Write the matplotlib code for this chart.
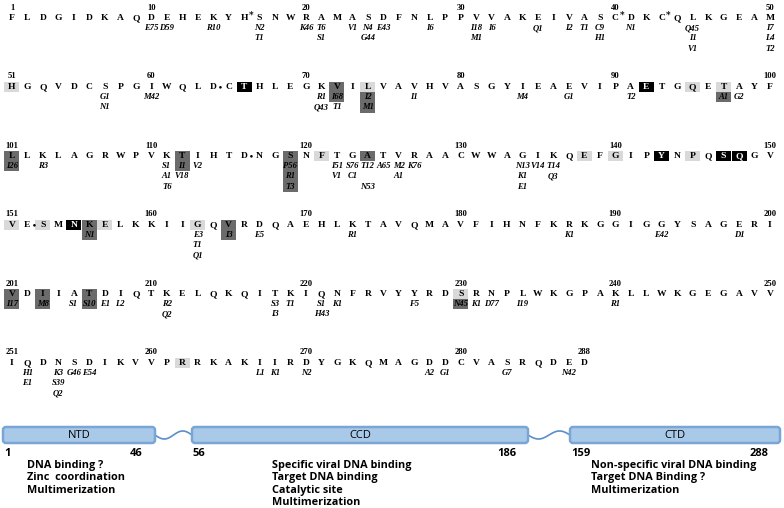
import numpy as np
import matplotlib
matplotlib.use('Agg')
import matplotlib.pyplot as plt
from matplotlib.patches import Rectangle, FancyBboxPatch

# integrase consensus sequence, 50 residues per printed row
sequence = ("FLDGIDKAQDEHEKYHSNWRAMASDFNLPPVVAKEIVASCDKCQLKGEAM"
            "HGQVDCSPGIWQLDCTHLEGKVILVAVHVASGYIEAEVIPAETGQETAYF"
            "LLKLAGRWPVKTIHTDNGSNFTGATVRAACWWAGIKQEFGIPYNPQSQGV"
            "VESMNKELKKIIGQVRDQAEHLKTAVQMAVFIHNFKRKGGIGGYSAGERI"
            "VDIIATDIQTKELQKQITKIQNFRVYYRDSRNPLWKGPAKLLWKGEGAVV"
            "IQDNSDIKVVPRRKAKIIRDYGKQMAGDDCVASRQDED")

# residue marks printed after the letter
markers = {16: '*', 40: '*', 43: '*', 64: '\u2022', 116: '\u2022', 152: '\u2022'}

# substitutions observed at each position ('' = empty line)
substitutions = {
    10: ['E75'], 11: ['D59'], 14: ['R10'], 17: ['N2', 'T1'], 20: ['K46'],
    21: ['T6', 'S1'], 23: ['V1'], 24: ['N4', 'G44'], 25: ['E43'], 28: ['I6'],
    31: ['I18', 'M1'], 32: ['I6'], 35: ['Q1'], 37: ['I2'], 38: ['T1'],
    39: ['C9', 'H1'], 41: ['N1'], 45: ['Q45', 'I1', 'V1'], 50: ['I7', 'L4', 'T2'],
    57: ['G1', 'N1'], 60: ['M42'], 71: ['R1', 'Q43'], 72: ['I68', 'T1'],
    74: ['I2', 'M1'], 77: ['I1'], 84: ['M4'], 87: ['G1'], 91: ['T2'],
    97: ['A1'], 98: ['G2'],
    101: ['I26'], 103: ['R3'], 111: ['S1', 'A1', 'T6'], 112: ['I1', 'V18'],
    113: ['V2'], 119: ['P56', 'R1', 'T3'], 122: ['I51', 'V1'], 123: ['S76', 'C1'],
    124: ['T12', '', 'N53'], 125: ['A65'], 126: ['M2', 'A1'], 127: ['K76'],
    134: ['N13', 'K1', 'E1'], 135: ['V14'], 136: ['T14', 'Q3'],
    156: ['N1'], 163: ['E3', 'T1', 'Q1'], 165: ['I3'], 167: ['E5'], 173: ['R1'],
    187: ['K1'], 193: ['E42'], 198: ['D1'],
    201: ['I17'], 203: ['M8'], 205: ['S1'], 206: ['S10'], 207: ['E1'], 208: ['L2'],
    211: ['R2', 'Q2'], 218: ['S3', 'I3'], 219: ['T1'], 221: ['S1', 'H43'],
    222: ['K1'], 227: ['F5'], 230: ['N45'], 231: ['K1'], 232: ['D77'],
    234: ['I19'], 240: ['R1'],
    252: ['H1', 'E1'], 254: ['K3', 'S39', 'Q2'], 255: ['G46'], 256: ['E54'],
    267: ['L1'], 268: ['K1'], 270: ['N2'], 278: ['A2'], 279: ['G1'],
    283: ['G7'], 287: ['N42'],
}

# shaded cells: (position, line) with line 0 = residue, 1.. = substitution lines
light_cells = [(51, 0), (74, 0), (95, 0), (97, 0), (121, 0), (138, 0), (140, 0),
               (145, 0), (151, 0), (153, 0), (157, 0), (163, 0), (230, 0), (262, 0)]
dark_cells = [(72, 0), (72, 1), (74, 1), (74, 2), (97, 1), (101, 0), (101, 1),
              (112, 0), (112, 1), (119, 0), (119, 1), (119, 2), (119, 3), (124, 0),
              (156, 0), (156, 1), (165, 0), (165, 1), (201, 0), (201, 1),
              (203, 0), (203, 1), (206, 0), (206, 1), (230, 1)]
black_cells = [(66, 0), (92, 0), (143, 0), (147, 0), (148, 0), (155, 0)]

# domain organisation
domain_names = ['NTD', 'CCD', 'CTD']
domain_start = [1, 56, 159]
domain_end = [46, 186, 288]
domain_functions = [
    ['DNA binding ?', 'Zinc  coordination', 'Multimerization'],
    ['Specific viral DNA binding', 'Target DNA binding', 'Catalytic site', 'Multimerization'],
    ['Non-specific viral DNA binding', 'Target DNA Binding ?', 'Multimerization'],
]

fig = plt.figure(figsize=(7.84, 5.08), dpi=100)
ax = fig.add_axes([0, 0, 1, 1])
ax.set_xlim(0, 784)
ax.set_ylim(508, 0)
ax.axis('off')

X0, DX = 12, 15.47
ROW_Y0, ROW_DY = 18, 69
LINE_DY = 10.2
BOX_W, BOX_H = 15, 10.4
SERIF = 'Liberation Serif'


def cell_xy(pos, line=0):
    row, col = divmod(pos - 1, 50)
    return X0 + col * DX, ROW_Y0 + row * ROW_DY + line * LINE_DY


for cells, color in [(light_cells, '#d9d9d9'), (dark_cells, '#6b6b6b'), (black_cells, 'black')]:
    for pos, line in cells:
        x, y = cell_xy(pos, line)
        ax.add_patch(Rectangle((x - BOX_W / 2, y - BOX_H / 2), BOX_W, BOX_H,
                               facecolor=color, edgecolor='none', zorder=1))

black_set = {p for p, l in black_cells}
for i, aa in enumerate(sequence):
    pos = i + 1
    x, y = cell_xy(pos)
    if (pos - 1) % 50 == 0 or pos % 10 == 0 or pos == len(sequence):
        ax.text(x, y - 10.5, str(pos), ha='center', va='center', fontsize=6.2,
                fontweight='bold', family=SERIF, zorder=3)
    ax.text(x, y, aa, ha='center', va='center', fontsize=6.8, fontweight='bold',
            family=SERIF, color='white' if pos in black_set else 'black', zorder=3)
    if pos in markers:
        m = markers[pos]
        ax.text(x + 4.5, y - (2.5 if m == '*' else 0), m, ha='left', va='center',
                fontsize=6.5 if m == '*' else 5.5, fontweight='bold', family='DejaVu Serif',
                zorder=3)
    for k, s in enumerate(substitutions.get(pos, []), start=1):
        if s:
            ax.text(x, cell_xy(pos, k)[1], s, ha='center', va='center', fontsize=6.2,
                    fontweight='bold', style='italic', family=SERIF, zorder=3)

# domain schematic
box_left = [3, 192, 570]
box_right = [155, 528, 780]
text_left = [27, 272, 591]
BOX_TOP, BOX_BOT = 427, 443
for name, s, e, fx, lx, rx, tx in zip(domain_names, domain_start, domain_end,
                                       domain_functions, box_left, box_right, text_left):
    ax.add_patch(FancyBboxPatch((lx, BOX_TOP), rx - lx, BOX_BOT - BOX_TOP,
                                boxstyle='round,pad=0,rounding_size=3',
                                facecolor='#a9c9e8', edgecolor='#7aa6d6', lw=1.8, zorder=2))
    ax.text((lx + rx) / 2, (BOX_TOP + BOX_BOT) / 2, name, ha='center', va='center',
            fontsize=8, family='Open Sans', zorder=3)
    ax.text(lx + 1, 454, str(s), ha='left', va='center', fontsize=8,
            fontweight='bold', family='Open Sans')
    ax.text(rx - 12, 454, str(e), ha='right', va='center', fontsize=8,
            fontweight='bold', family='Open Sans')
    for k, line in enumerate(fx):
        ax.text(tx, 465.5 + k * 12.4, line, ha='left', va='center', fontsize=7.8,
                fontweight='bold', family='Open Sans')

# wavy linkers between domains
for a, b in zip(box_right[:-1], box_left[1:]):
    t = np.linspace(0, 1, 60)
    ax.plot(a + (b - a) * t, (BOX_TOP + BOX_BOT) / 2 + 4 * np.sin(2 * np.pi * t),
            color='#5b8fc7', lw=1.2, zorder=1)

fig.savefig('out.png', dpi=100)
